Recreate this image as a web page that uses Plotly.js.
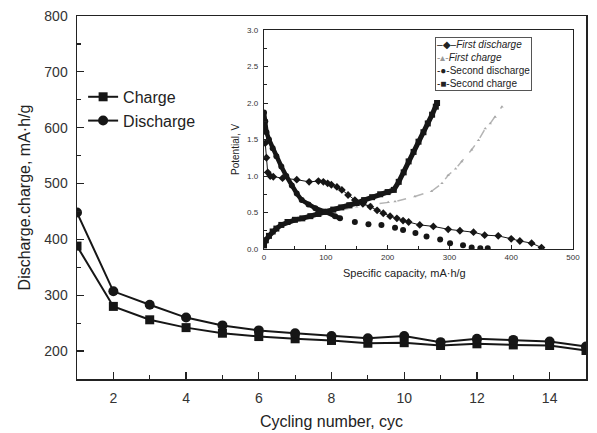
<!DOCTYPE html>
<html>
<head>
<meta charset="utf-8">
<script src="https://cdn.plot.ly/plotly-3.0.1.min.js"></script>
<style>html,body{margin:0;padding:0;background:#fff;}#chart{width:597px;height:433px;}</style>
</head>
<body>
<div id="chart"></div>
<script>
// Main chart data
const cycles = [1, 2, 3, 4, 5, 6, 7, 8, 9, 10, 11, 12, 13, 14, 15];
const charge = [388, 280, 256, 242, 232, 226, 222, 219, 214, 215, 210, 213, 211, 210, 201];
const discharge = [448, 307, 283, 260, 246, 237, 232, 227, 223, 227, 216, 222, 220, 217, 208];

// Inset data (specific capacity mA·h/g, potential V)
const firstDisCap = [2, 4, 6, 10, 15, 30, 53, 73, 88, 96, 103, 109, 118, 126, 136, 147, 160, 172, 183, 193, 204, 215, 225, 234, 252, 274, 298, 317, 339, 357, 379, 400, 414, 433, 449];
const firstDisV = [1.45, 1.25, 1.05, 1.0, 0.99, 0.97, 0.95, 0.92, 0.93, 0.92, 0.9, 0.88, 0.85, 0.81, 0.74, 0.67, 0.62, 0.58, 0.53, 0.49, 0.45, 0.42, 0.39, 0.37, 0.33, 0.31, 0.27, 0.25, 0.23, 0.19, 0.18, 0.14, 0.11, 0.08, 0.02];
const firstChgCap = [0, 15, 40, 80, 120, 150, 174, 201, 212, 244, 271, 288, 298, 310, 320, 336, 347, 358, 366, 374, 385];
const firstChgV = [0.08, 0.25, 0.37, 0.45, 0.53, 0.58, 0.61, 0.64, 0.65, 0.72, 0.79, 0.9, 1.01, 1.1, 1.2, 1.36, 1.49, 1.65, 1.72, 1.81, 1.95];
const secDisCap = [0, 2, 4, 8, 14, 20, 28, 36, 45, 53, 61, 72, 83, 99, 115, 123, 147, 169, 190, 212, 225, 245, 263, 285, 301, 322, 336, 350, 362];
const secDisV = [1.87, 1.75, 1.6, 1.5, 1.38, 1.27, 1.13, 1.0, 0.87, 0.76, 0.67, 0.61, 0.56, 0.51, 0.45, 0.42, 0.37, 0.34, 0.33, 0.29, 0.26, 0.22, 0.17, 0.13, 0.08, 0.05, 0.02, 0.01, 0.01];
const secChgCap = [0, 3, 8, 14, 20, 28, 38, 50, 62, 75, 88, 100, 112, 125, 138, 150, 162, 175, 188, 200, 210, 218, 226, 234, 242, 250, 258, 265, 272, 278, 280];
const secChgV = [0.05, 0.12, 0.18, 0.24, 0.28, 0.33, 0.37, 0.40, 0.42, 0.45, 0.48, 0.51, 0.54, 0.57, 0.60, 0.63, 0.67, 0.71, 0.75, 0.78, 0.81, 0.92, 1.05, 1.20, 1.33, 1.47, 1.60, 1.72, 1.84, 1.95, 2.0];

const denseCount = 16; // densely sampled start of second discharge

const ink = '#161616';
const fontFam = 'Arial, "Liberation Sans", sans-serif';

const traces = [
  {x: cycles, y: charge, name: 'Charge', mode: 'lines+markers', xaxis: 'x', yaxis: 'y',
   line: {color: ink, width: 2}, marker: {symbol: 'square', size: 9, color: ink}},
  {x: cycles, y: discharge, name: 'Discharge', mode: 'lines+markers', xaxis: 'x', yaxis: 'y',
   line: {color: ink, width: 2}, marker: {symbol: 'circle', size: 10, color: ink}},
  // inset
  {x: firstChgCap, y: firstChgV, mode: 'lines+markers', xaxis: 'x2', yaxis: 'y2', showlegend: false,
   line: {color: '#b4b4b4', width: 1.5, dash: 'dash'}, marker: {symbol: 'triangle-up', size: 3, color: '#a8a8a8'}},
  {x: firstDisCap, y: firstDisV, mode: 'lines+markers', xaxis: 'x2', yaxis: 'y2', showlegend: false,
   line: {color: ink, width: 1}, marker: {symbol: 'diamond', size: 6, color: ink}},
  {x: secDisCap.slice(0, denseCount), y: secDisV.slice(0, denseCount), mode: 'lines', xaxis: 'x2', yaxis: 'y2', showlegend: false,
   line: {color: ink, width: 4.5}},
  {x: secDisCap, y: secDisV, mode: 'markers', xaxis: 'x2', yaxis: 'y2', showlegend: false,
   marker: {symbol: 'circle', size: 6, color: ink}},
  {x: secChgCap, y: secChgV, mode: 'lines+markers', xaxis: 'x2', yaxis: 'y2', showlegend: false,
   line: {color: ink, width: 5}, marker: {symbol: 'square', size: 6, color: ink}}
];

const mainAxisCommon = {
  showline: true, mirror: true, linecolor: '#222', linewidth: 1.5,
  ticks: 'inside', ticklen: 7, tickwidth: 1.2, tickcolor: '#222',
  showgrid: false, zeroline: false,
  tickfont: {family: fontFam, size: 14, color: '#333'}
};
const insetAxisCommon = {
  showline: true, mirror: true, linecolor: '#222', linewidth: 1.2,
  ticks: 'inside', ticklen: 4, tickwidth: 1, tickcolor: '#222',
  showgrid: false, zeroline: false,
  tickfont: {family: fontFam, size: 8, color: '#333'}
};

const layout = {
  width: 597, height: 433,
  margin: {l: 77, r: 11, t: 16, b: 54},
  paper_bgcolor: '#fff', plot_bgcolor: 'rgba(0,0,0,0)',
  font: {family: fontFam, color: '#222'},
  showlegend: true,
  legend: {x: 0.012, y: 0.824, xanchor: 'left', yanchor: 'top', bgcolor: 'rgba(0,0,0,0)',
           font: {family: fontFam, size: 16, color: '#222'}, traceorder: 'normal'},
  xaxis: Object.assign({}, mainAxisCommon, {
    domain: [0, 1], range: [1, 15], tick0: 0, dtick: 2, ticklabelstandoff: 6,
    minor: {dtick: 1, tick0: 0, ticks: 'inside', ticklen: 4, tickcolor: '#222'},
    title: {text: 'Cycling number, cyc', font: {family: fontFam, size: 16, color: '#222'}, standoff: 10}
  }),
  yaxis: Object.assign({}, mainAxisCommon, {
    domain: [0, 1], range: [150, 800], tick0: 0, dtick: 100, ticklabelstandoff: 5,
    minor: {dtick: 50, tick0: 0, ticks: 'inside', ticklen: 4, tickcolor: '#222'},
    title: {text: 'Discharge.charge, mA·h/g', font: {family: fontFam, size: 16, color: '#222'}, standoff: 9}
  }),
  xaxis2: Object.assign({}, insetAxisCommon, {
    anchor: 'y2', domain: [0.3674, 0.9745], range: [0, 500], tick0: 0, dtick: 100, ticklabelstandoff: 0,
    minor: {dtick: 50, tick0: 0, ticks: 'inside', ticklen: 3, tickcolor: '#222'}
  }),
  yaxis2: Object.assign({}, insetAxisCommon, {
    anchor: 'x2', domain: [0.3581, 0.9614], range: [0, 3], tick0: 0, dtick: 0.5, tickformat: '.1f', ticklabelstandoff: 3,
    minor: {dtick: 0.25, tick0: 0, ticks: 'inside', ticklen: 3, tickcolor: '#222'}
  }),
  annotations: [
    {xref: 'paper', yref: 'paper', x: 0.3124, y: 0.6309, xanchor: 'center', yanchor: 'middle',
     text: 'Potential, V', textangle: -90,
     showarrow: false, font: {family: fontFam, size: 10, color: '#222'}},
    {xref: 'paper', yref: 'paper', x: 0.6444, y: 0.292, xanchor: 'center', yanchor: 'middle',
     text: 'Specific capacity, mA·h/g',
     showarrow: false, font: {family: fontFam, size: 11, color: '#222'}},
    {xref: 'paper', yref: 'paper', x: 0.7033, y: 0.9421, xanchor: 'left', yanchor: 'top', align: 'left',
     showarrow: false, bgcolor: '#fff', bordercolor: '#555', borderwidth: 1, borderpad: 1,
     font: {family: fontFam, size: 10, color: '#222'},
     text: '–◆–<i>First discharge</i><br><span style="color:#999">‐▴‐</span><i>First charge</i><br>‐●‐Second discharge<br>‐■‐Second charge'}
  ]
};

Plotly.newPlot('chart', traces, layout, {displayModeBar: false, staticPlot: true});
</script>
</body>
</html>
